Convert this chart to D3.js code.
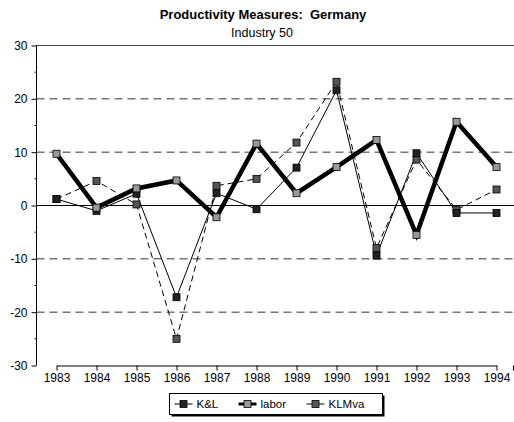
<!DOCTYPE html>
<html>
<head>
<meta charset="utf-8">
<script src="https://cdn.jsdelivr.net/npm/d3@7"></script>
<style>
  body { margin:0; background:#fff; }
  text { font-family: "Liberation Sans", Arial, sans-serif; white-space: pre; }
</style>
</head>
<body>
<div id="canvas"></div>
<script>
// data
var years = ['1983','1984','1985','1986','1987','1988','1989','1990','1991','1992','1993','1994'];
var kl    = [1.2, -1.0, 2.2, -17.2, 2.3, -0.7, 7.1, 21.6, -9.4, 9.8, -1.4, -1.4];
var labor = [9.7, -0.4, 3.2, 4.7, -2.2, 11.6, 2.3, 7.2, 12.3, -5.5, 15.7, 7.2];
var klmva = [1.2, 4.6, 0.2, -25.0, 3.7, 5.0, 11.8, 23.2, -8.0, 8.6, -0.8, 3.0];
var yTicks = [-30,-20,-10,0,10,20,30];
var yMinor = [-25,-15,-5,5,15,25];

var W = 514, H = 422;
var m = {t:45.5, l:36.5, b:56.5};
var plotW = 480, plotH = H - m.t - m.b; // 320

var svg = d3.select('#canvas').append('svg')
    .attr('width', W).attr('height', H);

svg.append('text').attr('x', 263).attr('y', 19)
    .attr('text-anchor','middle').attr('font-size', 13).attr('font-weight','bold')
    .text('Productivity Measures:  Germany');
svg.append('text').attr('x', 262).attr('y', 37)
    .attr('text-anchor','middle').attr('font-size', 12.5)
    .text('Industry 50');

var plot = svg.append('g').attr('transform','translate(' + m.l + ',' + m.t + ')');

var x = d3.scalePoint().domain(years).range([20, plotW - 20]);
var y = d3.scaleLinear().domain([-30, 30]).range([plotH, 0]);

// grid lines
plot.selectAll('.grid').data([-20,-10,10,20]).enter().append('line')
    .attr('x1', 0).attr('x2', plotW)
    .attr('y1', function(d){ return y(d); }).attr('y2', function(d){ return y(d); })
    .attr('stroke', '#333').attr('stroke-dasharray', '8,5');
plot.append('line').attr('x1',0).attr('x2',plotW).attr('y1',y(30)).attr('y2',y(30))
    .attr('stroke','#444');
plot.append('line').attr('x1',0).attr('x2',plotW).attr('y1',y(0)).attr('y2',y(0))
    .attr('stroke','#000');

// y axis
var axisY = d3.axisLeft(y).tickValues(yTicks).tickSize(5).tickPadding(4)
    .tickFormat(function(d){ return String(d); });
var gy = plot.append('g').call(axisY);
gy.select('.domain').attr('d', 'M0,' + y(30) + 'V' + y(-30));
gy.selectAll('text').attr('font-size', 12).attr('font-family','"Liberation Sans", Arial, sans-serif').attr('fill','#000');
plot.selectAll('.minor').data(yMinor).enter().append('line')
    .attr('x1', -2).attr('x2', 0)
    .attr('y1', function(d){ return y(d); }).attr('y2', function(d){ return y(d); })
    .attr('stroke','#000');

// x axis
var axisX = d3.axisBottom(x).tickSize(5).tickSizeOuter(0).tickPadding(3);
var gx = plot.append('g').attr('transform','translate(0,' + plotH + ')').call(axisX);
gx.selectAll('text').attr('font-size', 12).attr('font-family','"Liberation Sans", Arial, sans-serif').attr('fill','#000');
gx.append('line').attr('x1', plotW - 3).attr('x2', plotW - 3).attr('y1',0).attr('y2',5).attr('stroke','#000');

var series = [
  {name:'K&L',   vals:kl,    fill:'#222', width:1,   dash:null},
  {name:'labor', vals:labor, fill:'#999', width:4.5, dash:null},
  {name:'KLMva', vals:klmva, fill:'#555', width:1,   dash:'6,4'}
];

var line = d3.line()
    .x(function(d, i){ return x(years[i]); })
    .y(function(d){ return y(d); });

// draw in order so labor's thick line sits on top of the thin ones
var order = [series[2], series[0], series[1]];
order.forEach(function(s){
  plot.append('path').datum(s.vals)
    .attr('d', line)
    .attr('fill','none').attr('stroke','#000')
    .attr('stroke-width', s.width)
    .attr('stroke-dasharray', s.dash);
});
order.forEach(function(s){
  plot.selectAll(null).data(s.vals).enter().append('rect')
    .attr('x', function(d, i){ return x(years[i]) - 3.5; })
    .attr('y', function(d){ return y(d) - 3.5; })
    .attr('width', 7).attr('height', 7)
    .attr('fill', s.fill).attr('stroke','#000').attr('stroke-width', 0.8);
});

// legend
var lg = svg.append('g').attr('transform','translate(169.5,393.5)');
lg.append('rect').attr('x',2).attr('y',2).attr('width',213).attr('height',21).attr('fill','#000');
lg.append('rect').attr('x',0).attr('y',0).attr('width',213).attr('height',21)
    .attr('fill','#fff').attr('stroke','#000');
var lgX = [14, 78, 146];
series.forEach(function(s, i){
  var g = lg.append('g').attr('transform','translate(' + lgX[i] + ',10.5)');
  g.append('line').attr('x1',-9).attr('x2',9).attr('stroke','#000')
    .attr('stroke-width', s.width > 2 ? 3 : 1);
  g.append('rect').attr('x',-3.5).attr('y',-3.5).attr('width',7).attr('height',7)
    .attr('fill', s.fill).attr('stroke','#000').attr('stroke-width',0.8);
  g.append('text').attr('x', 13).attr('y', 4).attr('font-size', 11.5).text(s.name);
});
</script>
</body>
</html>
